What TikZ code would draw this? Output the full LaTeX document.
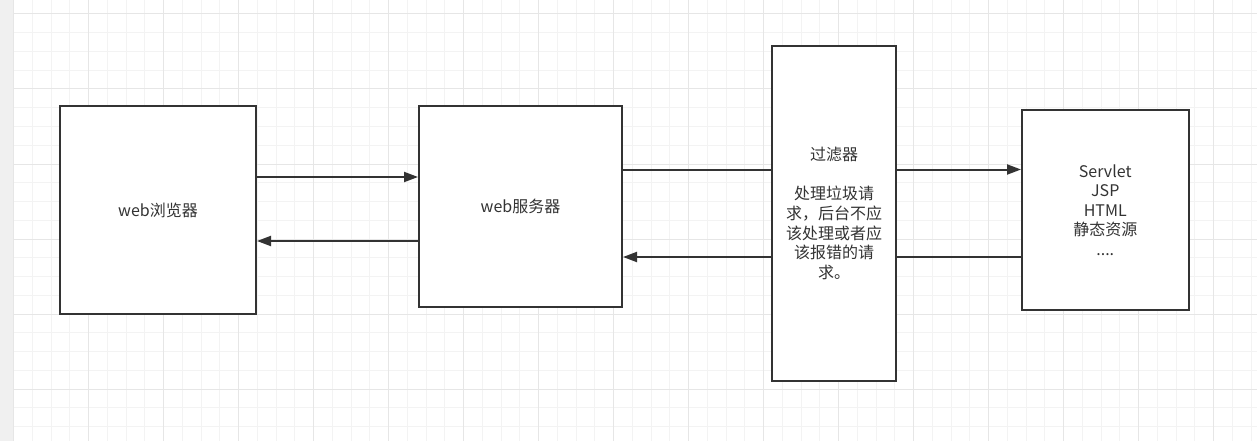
\documentclass[tikz,border=0pt]{standalone}
\usepackage{fontspec}
\setmainfont{Noto Sans CJK SC}
\usetikzlibrary{arrows.meta}
\definecolor{ink}{HTML}{333333}
\definecolor{gridminor}{HTML}{F3F3F3}
\definecolor{gridmajor}{HTML}{E6E6E6}
\definecolor{strip}{HTML}{F0F0F0}
\tikzset{
  box/.style={draw=ink, line width=2pt, fill=white, inner sep=0pt, align=center,
    text=ink, font=\fontsize{16}{19.6}\selectfont},
  conn/.style={draw=ink, line width=2pt},
  arr/.style={conn, -{Triangle[length=14pt,width=10pt]}}
}
\begin{document}
\begin{tikzpicture}[x=1pt,y=-1pt]
\useasboundingbox (0,0) rectangle (1257,441);
\fill[white] (0,0) rectangle (1257,441);
% grid
\foreach \i in {0,...,66} {
  \pgfmathsetmacro{\gx}{13.7+18.75*\i}
  \draw[gridminor, line width=1pt] (\gx,0) -- (\gx,441);
}
\foreach \i in {0,...,23} {
  \pgfmathsetmacro{\gy}{14+18.75*\i}
  \draw[gridminor, line width=1pt] (0,\gy) -- (1257,\gy);
}
\foreach \i in {0,...,16} {
  \pgfmathsetmacro{\gx}{13.7+75*\i}
  \draw[gridmajor, line width=1pt] (\gx,0) -- (\gx,441);
}
\foreach \i in {0,...,5} {
  \pgfmathsetmacro{\gy}{14+75*\i}
  \draw[gridmajor, line width=1pt] (0,\gy) -- (1257,\gy);
}
\fill[strip] (0,0) rectangle (13.2,441);
% boxes
\node[box, minimum width=196pt, minimum height=208pt] (b) at (158,210) {web浏览器};
\node[box, minimum width=203pt, minimum height=201pt] (s) at (520.5,206.5) {web服务器};
\node[box, minimum width=124pt, minimum height=335pt] (f) at (834,213.5)
  {过滤器\\[19.6pt]处理垃圾请\\求，后台不应\\该处理或者应\\该报错的请\\求。};
\node[box, minimum width=166.5pt, minimum height=200pt] (v) at (1105.25,210)
  {Servlet\\JSP\\HTML\\静态资源\\....};
% connectors
\draw[arr] (b.east |- 0,177) -- (s.west |- 0,177);
\draw[arr] (s.west |- 0,241) -- (b.east |- 0,241);
\draw[conn] (s.east |- 0,169.5) -- (f.west |- 0,169.5);
\draw[arr] (f.east |- 0,169.5) -- (v.west |- 0,169.5);
\draw[conn] (v.west |- 0,257) -- (f.east |- 0,257);
\draw[arr] (f.west |- 0,257) -- (s.east |- 0,257);
\end{tikzpicture}
\end{document}
